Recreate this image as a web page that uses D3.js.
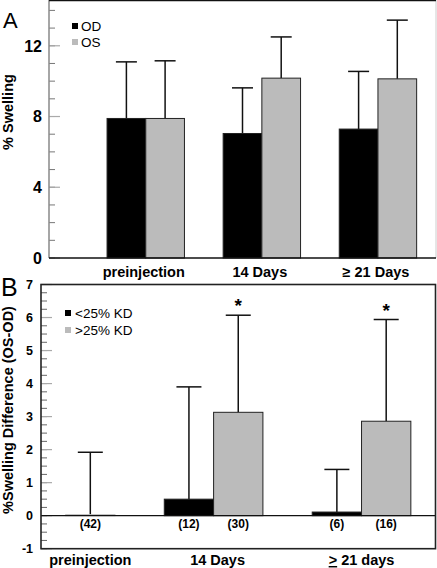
<!DOCTYPE html>
<html><head><meta charset="utf-8">
<script src="https://cdn.jsdelivr.net/npm/d3@7"></script>
<style>
html,body{margin:0;padding:0;background:#fff;}
svg{display:block;font-family:"Liberation Sans",Arial,sans-serif;}
</style></head>
<body>
<svg id="chart" width="437" height="568"></svg>
<script>
// ---------- Panel A data ----------
const categoriesA = ["preinjection", "14 Days", "\u2265 21 Days"];
const seriesA = ["OD", "OS"];
const odMean = [7.89, 7.04, 7.29];
const odSD   = [3.20, 2.58, 3.26];
const osMean = [7.89, 10.17, 10.13];
const osSD   = [3.26, 2.33, 3.32];
const yTicksA = [0, 4, 8, 12];

// ---------- Panel B data ----------
const categoriesB = ["preinjection", "14 Days", "21 days"];
const seriesB = ["<25% KD", ">25% KD"];
const lowKD     = [null, 0.50, 0.11];
const lowKDsd   = [null, 3.40, 1.29];
const lowKDn    = [null, "(12)", "(6)"];
const highKD    = [0.03, 3.13, 2.86];
const highKDsd  = [1.89, 2.94, 3.08];
const highKDn   = ["(42)", "(30)", "(16)"];
const highKDsig = ["", "*", "*"];
const yTicksB = [-1, 0, 1, 2, 3, 4, 5, 6, 7];

const BLACK = "#000", GRAY = "#bbbbbb";
const svg = d3.select("#chart");

// slot layout: each group occupies n bar slots, groups separated by a gap slot
function layout(groups, padL, gap) {
  let pos = padL; const out = [];
  groups.forEach(g => { out.push({start: pos, bars: g}); pos += g.length + gap; });
  return {groups: out, end: pos - gap};
}

// ================= Panel A =================
(function(){
  const L = 49, R = 436, T = 0.5, B = 258;
  const groups = categoriesA.map((c, i) => [
    {s: 0, v: odMean[i], sd: odSD[i]},
    {s: 1, v: osMean[i], sd: osSD[i]}
  ]);
  const lay = layout(groups, 1.5, 1);
  const x = d3.scaleLinear().domain([0, lay.end + 0.5]).range([L, R]);
  const y = d3.scaleLinear().domain([0, 14.56]).range([B, T]);
  const g = svg.append("g");

  g.selectAll(".mnA").data(d3.range(0, 15, 1)).join("line")
    .attr("x1", L).attr("x2", L + 6).attr("y1", d => y(d)).attr("y2", d => y(d))
    .attr("stroke", "#777").attr("stroke-width", 1);
  g.selectAll(".mjA").data(yTicksA).join("line")
    .attr("x1", L).attr("x2", L + 11).attr("y1", d => y(d)).attr("y2", d => y(d))
    .attr("stroke", "#aaa").attr("stroke-width", 1.2);

  lay.groups.forEach((gr, gi) => {
    gr.bars.forEach((b, bi) => {
      const x0 = x(gr.start + bi), x1 = x(gr.start + bi + 1), cx = (x0 + x1) / 2;
      const top = y(b.v + b.sd);
      g.append("line").attr("x1", cx).attr("x2", cx).attr("y1", y(b.v)).attr("y2", top)
        .attr("stroke", "#111").attr("stroke-width", 1.5);
      g.append("line").attr("x1", cx - 10.5).attr("x2", cx + 10.5).attr("y1", top).attr("y2", top)
        .attr("stroke", "#111").attr("stroke-width", 1.5);
      g.append("rect").attr("x", x0).attr("width", x1 - x0)
        .attr("y", y(b.v)).attr("height", y(0) - y(b.v))
        .attr("fill", b.s === 0 ? BLACK : GRAY).attr("stroke", "#222").attr("stroke-width", 1);
    });
    g.append("text").attr("x", x(gr.start + gr.bars.length / 2) - 2).attr("y", 277)
      .attr("text-anchor", "middle").attr("font-weight", "bold").attr("font-size", 14.5)
      .text(categoriesA[gi]);
  });

  g.append("line").attr("x1", L).attr("x2", L).attr("y1", 0).attr("y2", B).attr("stroke", "#888").attr("stroke-width", 1.5);
  g.append("line").attr("x1", R).attr("x2", R).attr("y1", 0).attr("y2", B).attr("stroke", "#ccc").attr("stroke-width", 1);
  g.append("line").attr("x1", L).attr("x2", R).attr("y1", T).attr("y2", T).attr("stroke", "#111").attr("stroke-width", 1.5);
  g.append("line").attr("x1", L).attr("x2", R).attr("y1", B).attr("y2", B).attr("stroke", "#111").attr("stroke-width", 1.5);

  g.selectAll(".tlA").data(yTicksA).join("text")
    .attr("x", 42).attr("y", d => y(d)).attr("dy", "0.36em")
    .attr("text-anchor", "end").attr("font-weight", "bold").attr("font-size", 16)
    .text(d => d);

  g.append("text").attr("transform", "translate(13,112) rotate(-90)")
    .attr("text-anchor", "middle").attr("font-weight", "bold").attr("font-size", 14.5)
    .text("% Swelling");

  g.append("text").attr("x", 3).attr("y", 28).attr("font-size", 22).text("A");

  seriesA.forEach((s, i) => {
    g.append("rect").attr("x", 72).attr("y", 23 + i * 16).attr("width", 6).attr("height", 6)
      .attr("fill", i === 0 ? BLACK : GRAY);
    g.append("text").attr("x", 81).attr("y", 26 + i * 16).attr("dy", "0.36em")
      .attr("font-size", 13.5).text(s);
  });
})();

// ================= Panel B =================
(function(){
  const L = 41, R = 435.5, T = 284.5, B = 548.7;
  const groups = categoriesB.map((c, i) => {
    const arr = [];
    if (lowKD[i] !== null) arr.push({s: 0, v: lowKD[i], sd: lowKDsd[i], n: lowKDn[i], sig: ""});
    arr.push({s: 1, v: highKD[i], sd: highKDsd[i], n: highKDn[i], sig: highKDsig[i]});
    return arr;
  });
  const lay = layout(groups, 0.5, 1);
  const x = d3.scaleLinear().domain([0, lay.end + 0.5]).range([L, R]);
  const y = d3.scaleLinear().domain([-1, 7]).range([B, T]);
  const g = svg.append("g");

  g.selectAll(".mnB").data(d3.range(-1, 7.01, 0.25)).join("line")
    .attr("x1", L).attr("x2", L + 6).attr("y1", d => y(d)).attr("y2", d => y(d))
    .attr("stroke", "#666").attr("stroke-width", 1);
  g.selectAll(".mjB").data(yTicksB).join("line")
    .attr("x1", L).attr("x2", L + 11).attr("y1", d => y(d)).attr("y2", d => y(d))
    .attr("stroke", "#aaa").attr("stroke-width", 1.2);

  lay.groups.forEach((gr, gi) => {
    gr.bars.forEach((b, bi) => {
      const x0 = x(gr.start + bi), x1 = x(gr.start + bi + 1), cx = (x0 + x1) / 2;
      const top = y(b.v + b.sd);
      g.append("line").attr("x1", cx).attr("x2", cx).attr("y1", y(b.v)).attr("y2", top)
        .attr("stroke", "#111").attr("stroke-width", 1.5);
      g.append("line").attr("x1", cx - 12.5).attr("x2", cx + 12.5).attr("y1", top).attr("y2", top)
        .attr("stroke", "#111").attr("stroke-width", 1.5);
      const tiny = Math.abs(y(0) - y(b.v)) < 2;
      g.append("rect").attr("x", x0).attr("width", x1 - x0)
        .attr("y", y(b.v)).attr("height", Math.max(0, y(0) - y(b.v)))
        .attr("fill", b.s === 0 ? BLACK : GRAY)
        .attr("stroke", tiny ? GRAY : "#222").attr("stroke-width", 1);
      g.append("text").attr("x", cx).attr("y", 528)
        .attr("text-anchor", "middle").attr("font-weight", "bold").attr("font-size", 12)
        .text(b.n);
      if (b.sig) {
        g.append("text").attr("x", cx).attr("y", top - 3)
          .attr("text-anchor", "middle").attr("font-weight", "bold").attr("font-size", 19)
          .text(b.sig);
      }
    });
    const lbl = g.append("text").attr("x", x(gr.start + gr.bars.length / 2) + (gi === 1 ? 4 : 0)).attr("y", 565)
      .attr("text-anchor", "middle").attr("font-weight", "bold").attr("font-size", 14.5);
    if (gi === 2) {
      lbl.append("tspan").attr("text-decoration", "underline").text(">");
      lbl.append("tspan").text("  " + categoriesB[gi]);
    } else {
      lbl.text(categoriesB[gi]);
    }
  });

  g.append("line").attr("x1", L).attr("x2", R).attr("y1", y(0)).attr("y2", y(0)).attr("stroke", "#111").attr("stroke-width", 1.3);
  g.append("rect").attr("x", L).attr("y", T).attr("width", R - L).attr("height", B - T)
    .attr("fill", "none").attr("stroke", "#222").attr("stroke-width", 1.6);

  g.selectAll(".tlB").data(yTicksB).join("text")
    .attr("x", 33).attr("y", d => y(d)).attr("dy", "0.36em")
    .attr("text-anchor", "end").attr("font-weight", "bold").attr("font-size", 12.5)
    .text(d => d);

  g.append("text").attr("transform", "translate(13,410) rotate(-90)")
    .attr("text-anchor", "middle").attr("font-weight", "bold").attr("font-size", 14.5)
    .text("%Swelling Difference (OS-OD)");

  g.append("text").attr("x", 1).attr("y", 296).attr("font-size", 25).text("B");

  seriesB.forEach((s, i) => {
    g.append("rect").attr("x", 65).attr("y", 310 + i * 17).attr("width", 6).attr("height", 6)
      .attr("fill", i === 0 ? BLACK : GRAY);
    g.append("text").attr("x", 75).attr("y", 313 + i * 17).attr("dy", "0.36em")
      .attr("font-size", 13.5).text(s);
  });
})();
</script>
</body></html>
